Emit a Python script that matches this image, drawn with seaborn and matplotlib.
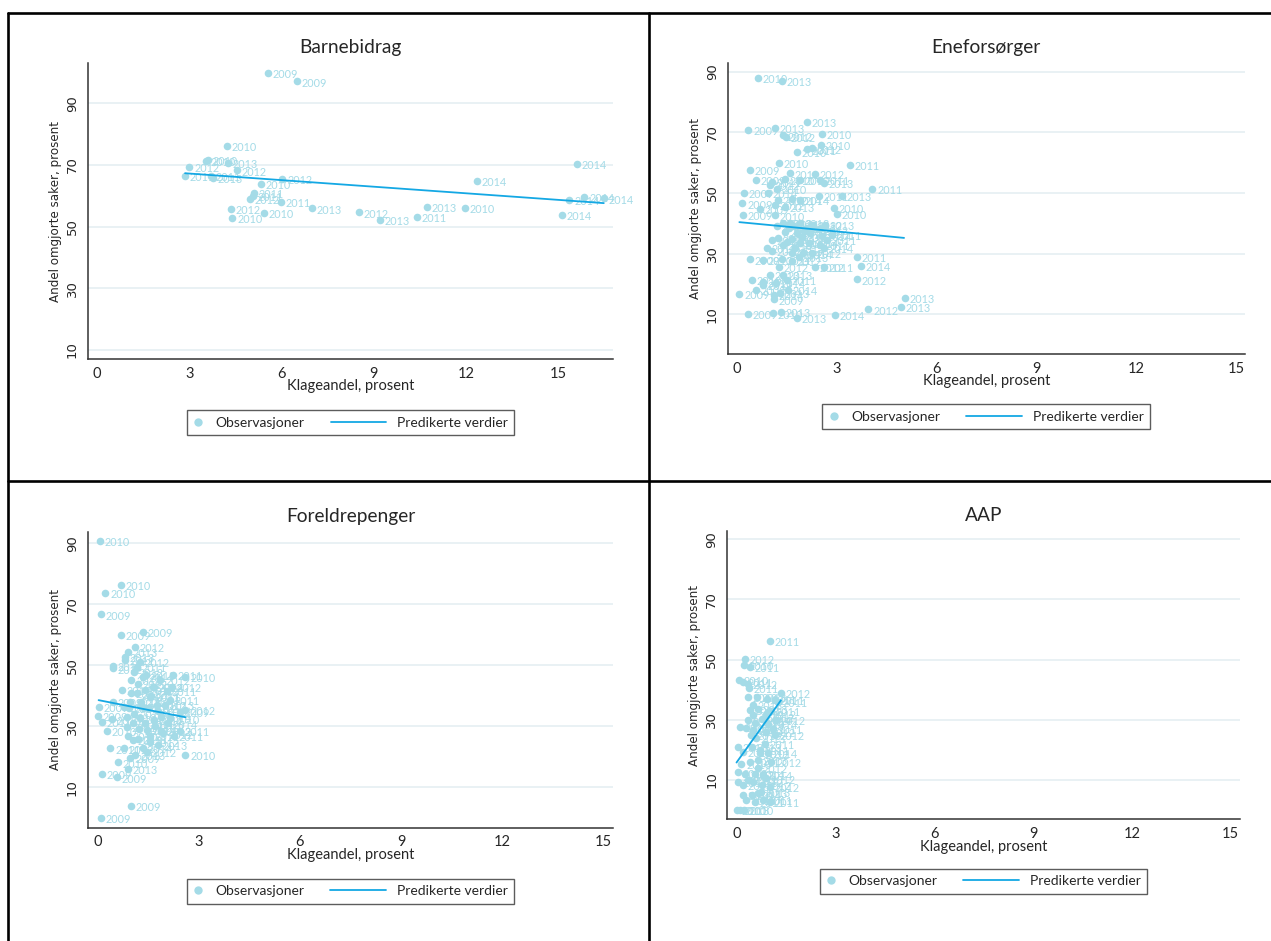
import numpy as np
import pandas as pd
import matplotlib.pyplot as plt
import seaborn as sns
from matplotlib.lines import Line2D
from matplotlib.legend_handler import HandlerLine2D

# Barnebidrag
barn_x = [5.55, 6.51, 4.21, 3.55, 3.61, 4.26, 3.00, 4.56, 2.86, 3.69, 3.77, 6.03, 5.34, 5.09, 5.06, 4.97,
          5.98, 7.00, 4.34, 5.42, 4.40, 8.52, 9.21, 10.40, 10.72, 11.98, 12.37, 15.62, 15.37, 15.86, 16.49, 15.13]
barn_y = [100.0, 97.1, 76.2, 71.4, 71.6, 70.6, 69.4, 68.2, 66.5, 66.4, 65.7, 65.5, 63.7, 61.0, 59.9, 59.0,
          57.9, 55.9, 55.7, 54.5, 52.7, 54.6, 52.1, 53.1, 56.5, 56.1, 64.8, 70.2, 58.6, 59.7, 59.1, 53.9]
barn_year = [2009, 2009, 2010, 2010, 2010, 2013, 2012, 2012, 2011, 2011, 2013, 2012, 2010, 2011, 2011, 2012,
             2011, 2013, 2012, 2010, 2010, 2012, 2013, 2011, 2013, 2010, 2014, 2014, 2014, 2014, 2014, 2014]
barn_fit_x = [2.86, 16.49]
barn_fit_y = [67.3, 57.6]

# Eneforsørger
ene_x = [0.62, 1.34, 2.11, 0.34, 1.15, 1.37, 1.47, 2.56, 2.51, 1.79, 2.11, 2.26, 1.26, 3.40, 0.39, 1.60,
         2.35, 0.56, 1.04, 1.43, 1.89, 2.49, 2.61, 0.99, 1.21, 4.07, 0.20, 0.94, 2.45, 3.15, 0.16, 0.68,
         1.24, 1.64, 1.89, 1.14, 1.44, 2.92, 3.01, 0.17, 1.14, 1.21, 1.37, 1.59, 1.89, 2.29, 2.64, 2.84,
         2.70, 1.44, 1.79, 2.09, 1.04, 1.24, 0.89, 1.06, 1.38, 1.74, 1.89, 1.64, 1.99, 2.24, 2.60, 3.60,
         0.39, 0.79, 1.34, 1.64, 1.25, 2.35, 2.60, 3.72, 3.60, 0.44, 0.99, 1.37, 0.79, 0.77, 1.17, 1.49,
         1.54, 0.56, 0.07, 1.11, 1.29, 1.11, 0.32, 1.09, 1.32, 1.79, 2.95, 3.95, 4.92, 5.05,
         1.55, 1.70, 2.00, 2.20, 2.45, 2.55, 1.65, 1.95, 2.15, 2.50, 1.50, 1.85]
ene_y = [88.0, 86.9, 73.5, 70.9, 71.4, 69.0, 68.4, 69.6, 66.0, 63.7, 64.4, 64.7, 60.0, 59.3, 57.6, 56.5,
         56.3, 54.2, 53.6, 54.5, 54.4, 54.3, 53.4, 52.6, 51.4, 51.3, 50.0, 50.0, 49.0, 49.0, 46.6, 44.9,
         47.7, 47.9, 47.7, 46.0, 45.5, 45.1, 43.0, 42.9, 42.6, 39.1, 40.2, 40.0, 40.2, 39.5, 39.5, 36.2,
         34.5, 37.3, 36.7, 38.4, 34.5, 35.1, 32.0, 30.8, 32.9, 31.8, 33.4, 30.3, 30.1, 30.3, 31.8, 29.0,
         28.1, 27.9, 28.1, 27.6, 25.7, 25.7, 25.5, 26.0, 21.5, 21.3, 23.0, 23.0, 20.8, 19.6, 20.4, 21.3,
         18.0, 18.0, 16.6, 16.4, 17.0, 14.9, 10.0, 10.3, 10.9, 8.9, 9.8, 11.6, 12.5, 15.4,
         38.5, 39.2, 37.5, 36.8, 38.0, 35.8, 34.8, 35.5, 33.6, 33.0, 33.8, 28.8]
ene_year = [2010, 2013, 2013, 2009, 2013, 2012, 2012, 2010, 2010, 2010, 2011, 2012, 2010, 2011, 2009, 2011,
            2012, 2009, 2011, 2010, 2010, 2011, 2013, 2012, 2010, 2011, 2009, 2014, 2011, 2013, 2009, 2009,
            2012, 2014, 2014, 2012, 2013, 2010, 2010, 2009, 2010, 2011, 2012, 2011, 2013, 2012, 2013, 2011,
            2011, 2014, 2013, 2012, 2012, 2014, 2011, 2012, 2013, 2012, 2011, 2014, 2014, 2012, 2014, 2011,
            2009, 2010, 2011, 2012, 2012, 2012, 2011, 2014, 2012, 2010, 2013, 2013, 2011, 2012, 2014, 2011,
            2014, 2009, 2009, 2014, 2013, 2009, 2009, 2010, 2013, 2013, 2014, 2012, 2013, 2013,
            2012, 2013, 2011, 2014, 2012, 2014, 2013, 2012, 2014, 2011, 2011, 2013]
ene_fit_x = [0.07, 5.02]
ene_fit_y = [40.4, 35.2]

# Foreldrepenger
fp_x = [0.08, 0.70, 0.24, 0.12, 0.69, 1.35, 1.11, 0.91, 0.81, 0.81, 1.27, 0.46, 0.46, 1.17, 1.08, 2.23,
        2.61, 1.01, 1.37, 1.87, 1.67, 0.73, 2.06, 1.17, 1.57, 2.16, 0.98, 0.46, 0.04, 0.78, 1.37, 1.77,
        2.61, 2.46, 0.01, 0.43, 0.14, 0.88, 1.27, 1.67, 2.16, 0.29, 0.88, 1.47, 1.96, 2.44, 2.28, 1.06,
        1.57, 0.39, 0.80, 1.47, 1.13, 0.98, 0.62, 2.61, 0.90, 0.13, 0.58, 0.99, 0.11,
        1.20, 1.40, 1.60, 1.30, 1.50, 1.80, 1.10, 1.40, 1.70, 1.90, 2.00, 1.25, 1.55, 1.80, 1.35, 1.05,
        0.95, 1.65, 2.10, 1.45, 2.20, 1.20, 1.90, 1.00, 0.90]
fp_y = [90.9, 76.3, 73.8, 66.7, 60.1, 61.0, 56.0, 54.5, 52.8, 51.7, 51.0, 49.9, 49.0, 49.6, 47.9, 46.8,
        46.3, 45.2, 46.3, 45.2, 43.0, 41.9, 41.7, 40.8, 39.7, 38.6, 38.1, 38.1, 36.4, 36.4, 36.4, 37.0,
        35.4, 34.8, 33.4, 32.3, 31.5, 33.2, 32.6, 32.1, 32.6, 28.6, 29.9, 28.8, 27.7, 28.5, 26.8, 25.5,
        25.0, 22.8, 22.8, 21.7, 20.6, 19.8, 18.2, 20.7, 16.1, 14.3, 13.3, 3.9, 0.05,
        44.0, 42.0, 40.0, 38.0, 36.0, 35.0, 34.0, 31.0, 30.0, 33.0, 37.0, 29.0, 27.0, 24.0, 23.0, 31.0,
        36.0, 43.0, 31.0, 47.0, 43.0, 26.0, 28.5, 41.0, 27.0]
fp_year = [2010, 2010, 2010, 2009, 2009, 2009, 2012, 2013, 2013, 2011, 2012, 2011, 2012, 2011, 2012, 2011,
           2010, 2013, 2014, 2012, 2014, 2013, 2011, 2012, 2011, 2011, 2012, 2009, 2009, 2010, 2013, 2012,
           2012, 2009, 2009, 2010, 2011, 2013, 2012, 2011, 2010, 2010, 2011, 2014, 2012, 2011, 2011, 2013,
           2012, 2011, 2013, 2012, 2013, 2009, 2010, 2010, 2013, 2009, 2009, 2009, 2009,
           2012, 2013, 2011, 2014, 2012, 2013, 2010, 2011, 2012, 2014, 2013, 2012, 2011, 2013, 2014, 2010,
           2011, 2012, 2014, 2013, 2012, 2011, 2013, 2012, 2010]
fp_fit_x = [0.04, 2.61]
fp_fit_y = [38.6, 33.0]

# AAP
aap_x = [1.01, 0.25, 0.23, 0.40, 0.07, 0.20, 0.35, 0.37, 1.35, 0.35, 0.61, 0.91, 1.16, 1.26, 0.40, 0.66,
         0.51, 0.91, 0.35, 0.76, 0.10, 0.30, 0.51, 0.96, 1.16, 0.05, 0.20, 0.46, 0.86, 0.71, 1.06, 0.15,
         0.40, 0.66, 0.05, 0.25, 0.56, 0.81, 0.05, 0.20, 0.51, 0.76, 1.01, 0.20, 0.46, 0.66, 0.30, 0.56,
         0.81, 1.01, 0.00, 0.10, 0.23,
         0.60, 0.90, 0.70, 0.55, 0.85, 1.10, 0.45, 0.95, 0.65, 0.35, 0.75, 0.90, 0.50, 1.05, 1.20]
aap_y = [56.3, 50.1, 48.2, 47.6, 43.1, 42.6, 42.0, 40.7, 39.0, 37.6, 37.6, 37.0, 36.5, 35.9, 33.2, 33.7,
         31.5, 32.1, 29.8, 30.1, 27.6, 27.1, 26.5, 28.5, 24.9, 21.0, 19.3, 21.0, 22.1, 18.8, 16.0, 15.4,
         16.0, 16.6, 12.5, 12.1, 12.1, 11.6, 9.4, 8.3, 9.4, 8.3, 7.7, 5.0, 5.0, 5.6, 3.3, 2.7,
         3.3, 2.7, 0.0, 0.0, 0.0,
         24.0, 26.0, 20.0, 29.0, 31.0, 27.0, 25.0, 19.0, 14.0, 10.0, 6.0, 10.5, 35.0, 33.0, 30.0]
aap_year = [2011, 2012, 2010, 2011, 2010, 2011, 2012, 2011, 2012, 2010, 2013, 2011, 2011, 2011, 2012, 2013,
            2012, 2012, 2011, 2014, 2010, 2012, 2013, 2014, 2012, 2010, 2011, 2013, 2011, 2012, 2012, 2010,
            2011, 2013, 2010, 2012, 2014, 2014, 2011, 2013, 2012, 2012, 2012, 2010, 2014, 2013, 2013, 2011,
            2011, 2011, 2010, 2013, 2010,
            2013, 2012, 2011, 2014, 2012, 2011, 2013, 2014, 2012, 2011, 2013, 2012, 2013, 2011, 2012]
aap_fit_x = [0.0, 1.35]
aap_fit_y = [15.8, 36.5]

titles = ["Barnebidrag", "Eneforsørger", "Foreldrepenger", "AAP"]
xticks = [0, 3, 6, 9, 12, 15]
yticks = [10, 30, 50, 70, 90]

sns.set_theme(style="white")
plt.rcParams['font.family'] = ['Lato', 'DejaVu Sans']

pt_color = "#a4dbe7"
line_color = "#14a8e4"

W, H = 1271, 941
fig = plt.figure(figsize=(W / 100, H / 100), dpi=100)


def box(left, right, top, bottom):
    return [left / W, 1 - bottom / H, (right - left) / W, (bottom - top) / H]


panels = [
    (box(88, 613, 63, 359), barn_x, barn_y, barn_year, barn_fit_x, barn_fit_y, (-0.30, 16.79), (6.98, 103.1)),
    (box(727.7, 1244.8, 62.7, 354), ene_x, ene_y, ene_year, ene_fit_x, ene_fit_y, (-0.28, 15.26), (-3.1, 93.0)),
    (box(87.8, 613, 531.7, 827.7), fp_x, fp_y, fp_year, fp_fit_x, fp_fit_y, (-0.28, 15.28), (-3.2, 93.8)),
    (box(727.3, 1239.6, 530.7, 819.3), aap_x, aap_y, aap_year, aap_fit_x, aap_fit_y, (-0.28, 15.27), (-3.06, 92.8)),
]


class LongLine(HandlerLine2D):
    # line handle that reaches left into the column gap, like the Stata legend
    def create_artists(self, legend, orig_handle, xdescent, ydescent, width, height, fontsize, trans):
        ext = 3.2 * fontsize
        yy = (height - ydescent) / 2
        ln = Line2D([-xdescent - ext, -xdescent + width], [yy, yy])
        self.update_prop(ln, orig_handle, legend)
        ln.set_transform(trans)
        return [ln]


for i, (pos, x, y, yr, fx, fy, xl, yl) in enumerate(panels):
    ax = fig.add_axes(pos)
    df = pd.DataFrame({"x": x, "y": y, "year": yr})
    for gy in yticks:
        ax.axhline(gy, color="#e3edf1", lw=1.1, zorder=0)
    sns.scatterplot(data=df, x="x", y="y", ax=ax, color=pt_color, s=30, linewidth=0, zorder=2)
    for _, r in df.iterrows():
        ax.annotate(str(int(r["year"])), (r["x"], r["y"]), xytext=(3.4, -1.2), textcoords="offset points",
                    fontsize=7.8, color=pt_color, ha="left", va="center", zorder=3)
    sns.lineplot(x=fx, y=fy, ax=ax, color=line_color, lw=1.3, zorder=4)
    ax.set_xlim(*xl)
    ax.set_ylim(*yl)
    ax.set_xticks(xticks)
    ax.set_yticks(yticks)
    ax.set_xticklabels([str(t) for t in xticks], fontsize=10.5)
    ax.set_yticklabels([str(t) for t in yticks], fontsize=9.5, family="DejaVu Sans", rotation=90, va="center")
    ax.tick_params(axis="both", direction="out", length=4.5, width=0.9, color="#333333", pad=2)
    ax.tick_params(axis="x", pad=1)
    for s in ["top", "right"]:
        ax.spines[s].set_visible(False)
    for s in ["left", "bottom"]:
        ax.spines[s].set_color("#333333")
        ax.spines[s].set_linewidth(1.1)
    ax.set_title(titles[i], fontsize=13.8, pad=7)
    ax.set_xlabel("Klageandel, prosent", fontsize=10.5, labelpad=-1)
    ax.set_ylabel("Andel omgjorte saker, prosent", fontsize=8.6, family="DejaVu Sans", labelpad=3)

    h_pt = Line2D([], [], ls="none", marker="o", markersize=6, color=pt_color, markeredgewidth=0)
    h_ln = Line2D([], [], color=line_color, lw=1.3)
    leg = ax.legend([h_pt, h_ln], ["Observasjoner", "Predikerte verdier"], ncol=2,
                    loc="center", bbox_to_anchor=(0.5, -0.215), fontsize=10, frameon=True,
                    fancybox=False, handlelength=0.8, handletextpad=0.8, columnspacing=5.1,
                    borderpad=0.45, handler_map={h_ln: LongLine()})
    leg.get_frame().set_edgecolor("#333333")
    leg.get_frame().set_linewidth(1.0)

# table-like frame around the four panels
lw = 1.9
fig.add_artist(Line2D([8 / W, 1], [1 - 12.7 / H] * 2, color="black", lw=lw))
fig.add_artist(Line2D([8 / W] * 2, [0, 1 - 12.7 / H], color="black", lw=lw))
fig.add_artist(Line2D([649 / W] * 2, [0, 1 - 12.7 / H], color="black", lw=lw))
fig.add_artist(Line2D([8 / W, 1], [1 - 481 / H] * 2, color="black", lw=lw))

fig.savefig("out.png", dpi=100, facecolor="white")
